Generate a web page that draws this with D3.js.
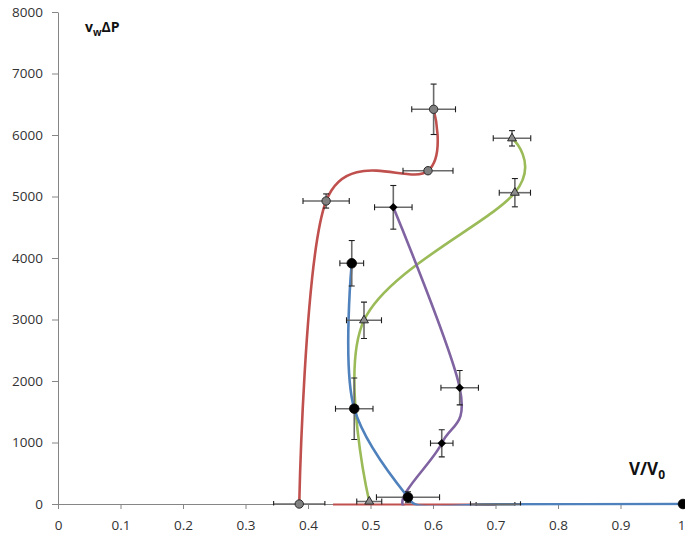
<!DOCTYPE html>
<html>
<head>
<meta charset="utf-8">
<script src="https://cdn.jsdelivr.net/npm/d3@7"></script>
<style>
  body { margin: 0; background: #fff; }
  svg { display: block; }
  text { font-family: "Open Sans", "DejaVu Sans", sans-serif; }
</style>
</head>
<body>
<svg id="chart" width="685" height="537"></svg>
<script>
// Axis ticks
const xTicks = [0, 0.1, 0.2, 0.3, 0.4, 0.5, 0.6, 0.7, 0.8, 0.9, 1];
const xTickLabels = ["0", "0.1", "0.2", "0.3", "0.4", "0.5", "0.6", "0.7", "0.8", "0.9", "1"];
const yTicks = [0, 1000, 2000, 3000, 4000, 5000, 6000, 7000, 8000];

// Series A (red line, grey circles). A null is a blank cell (gap in the line);
// values below 0 lie outside the axis range and get no marker.
const redX    = [0.70, 0.44, null, 0.386, 0.429, 0.592, 0.601];
const redY    = [-15, -15, null, 0, 4927, 5419, 6418];
const redXErr = [0.031, 0, 0, 0.041, 0.037, 0.040, 0.035];
const redYErr = [0, 0, 0, 0, 115, 0, 410];

// Series B (green line, grey triangles)
const greenX    = [0.498, 0.4896, 0.731, 0.7264];
const greenY    = [40, 2987, 5062, 5946];
const greenXErr = [0.020, 0.028, 0.025, 0.030];
const greenYErr = [0, 295, 230, 125];

// Series C (purple line, black diamonds)
const purpleX    = [0.5365, 0.6427, 0.614, 0.553, 0.70];
const purpleY    = [4824, 1891, 987, -40, -15];
const purpleXErr = [0.030, 0.030, 0.018, 0, 0];
const purpleYErr = [355, 280, 220, 0, 0];

// Series D (blue line, black circles)
const blueX    = [0.470, 0.474, 0.560, 0.572, 0.70, 1.0];
const blueY    = [3914, 1550, 110, -6, -6, 0];
const blueXErr = [0.019, 0.030, 0.0505, 0, 0.040, 0];
const blueYErr = [370, 500, 90, 0, 0, 0];

const svg = d3.select("#chart");
const margin = { left: 58, right: 2, top: 12, bottom: 33 };
const W = 685, H = 537;

const x = d3.scaleLinear().domain([0, 1]).range([margin.left, W - margin.right]);
const y = d3.scaleLinear().domain([0, 8000]).range([H - margin.bottom, margin.top]);

const axisColor = "#868686";
const textColor = "#333";

// Plot-area clip: series are cut at the bottom of the value range
svg.append("defs").append("clipPath").attr("id", "plotClip")
  .append("rect")
  .attr("x", x(0)).attr("y", 0)
  .attr("width", x(1) - x(0) + 10)
  .attr("height", y(0) + 1.5);

// Y axis
const yAxis = svg.append("g")
  .attr("transform", `translate(${x(0)},0)`)
  .call(d3.axisLeft(y).tickValues(yTicks).tickSize(6).tickSizeOuter(0).tickPadding(9)
    .tickFormat(d3.format("d")));
yAxis.select(".domain").attr("stroke", axisColor);
yAxis.selectAll(".tick line").attr("stroke", axisColor);
yAxis.selectAll(".tick text").attr("fill", textColor).style("font-size", "13.5px")
  .style("font-family", "'Open Sans', sans-serif");

// X axis
const xAxis = svg.append("g")
  .attr("transform", `translate(0,${y(0)})`)
  .call(d3.axisBottom(x).tickValues(xTicks).tickSize(5).tickSizeOuter(0)
    .tickFormat((d, i) => xTickLabels[i]));
xAxis.select(".domain").attr("stroke", axisColor);
xAxis.selectAll(".tick line").attr("stroke", axisColor);
xAxis.selectAll(".tick text").attr("fill", textColor).style("font-size", "13.5px")
  .style("font-family", "'Open Sans', sans-serif")
  .attr("y", 26).attr("dy", "0")
  .attr("dx", d => (d === 1 ? -2 : 0));

// Axis titles
const yTitle = svg.append("text")
  .attr("x", 85).attr("y", 31.5)
  .attr("fill", "#111")
  .style("font-weight", "bold").style("font-size", "14px");
yTitle.append("tspan").text("v");
yTitle.append("tspan").attr("dy", 4).style("font-size", "10px").text("w");
yTitle.append("tspan").attr("dy", -4).text("ΔP");

const xTitle = svg.append("text")
  .attr("x", 629).attr("y", 475)
  .attr("fill", "#111")
  .style("font-weight", "bold").style("font-size", "17px");
xTitle.append("tspan").text("V/V");
xTitle.append("tspan").attr("dy", 4).style("font-size", "12px").text("0");

const series = [
  { xs: redX, ys: redY, xe: redXErr, ye: redYErr, color: "#C0504D", marker: "circleGrey", alpha: 0 },
  { xs: greenX, ys: greenY, xe: greenXErr, ye: greenYErr, color: "#9BBB59", marker: "triangle", alpha: 0 },
  { xs: purpleX, ys: purpleY, xe: purpleXErr, ye: purpleYErr, color: "#8064A2", marker: "diamond", alpha: 0 },
  { xs: blueX, ys: blueY, xe: blueXErr, ye: blueYErr, color: "#4F81BD", marker: "circleBlack", alpha: 0.5 }
];

const plot = svg.append("g").attr("clip-path", "url(#plotClip)");

// Smoothed lines
series.forEach(s => {
  const pts = s.xs.map((v, i) => (v == null ? null : [x(v), y(s.ys[i])]));
  const lineGen = d3.line()
    .defined(p => p != null)
    .curve(d3.curveCatmullRom.alpha(s.alpha));
  plot.append("path")
    .attr("d", lineGen(pts))
    .attr("fill", "none")
    .attr("stroke", s.color)
    .attr("stroke-width", 2.6)
    .attr("stroke-linejoin", "round");
});

// Error bars
const barColor = "#6a6a6a", capColor = "#1e1e1e", cap = 3;
series.forEach(s => {
  s.xs.forEach((v, i) => {
    if (v == null) return;
    const cx = x(v), cy = y(s.ys[i]);
    const g = plot.append("g");
    if (s.xe[i] > 0) {
      const x0 = x(v - s.xe[i]), x1 = x(v + s.xe[i]);
      g.append("line").attr("x1", x0).attr("x2", x1).attr("y1", cy).attr("y2", cy)
        .attr("stroke", barColor).attr("stroke-width", 1.6);
      [x0, x1].forEach(xx => g.append("line").attr("x1", xx).attr("x2", xx)
        .attr("y1", cy - cap).attr("y2", cy + cap).attr("stroke", capColor).attr("stroke-width", 1.1));
    }
    if (s.ye[i] > 0) {
      const y0 = y(s.ys[i] - s.ye[i]), y1 = y(s.ys[i] + s.ye[i]);
      g.append("line").attr("x1", cx).attr("x2", cx).attr("y1", y0).attr("y2", y1)
        .attr("stroke", barColor).attr("stroke-width", 1.6);
      [y0, y1].forEach(yy => g.append("line").attr("y1", yy).attr("y2", yy)
        .attr("x1", cx - cap).attr("x2", cx + cap).attr("stroke", capColor).attr("stroke-width", 1.1));
    }
  });
});

// Markers (only for points inside the value range)
series.forEach(s => {
  s.xs.forEach((v, i) => {
    const yv = s.ys[i];
    if (v == null || yv < 0) return;
    const cx = x(v), cy = y(yv);
    if (s.marker === "circleGrey") {
      svg.append("circle").attr("cx", cx).attr("cy", cy).attr("r", 4.2)
        .attr("fill", "#808080").attr("stroke", "#2b2b2b").attr("stroke-width", 1);
    } else if (s.marker === "circleBlack") {
      svg.append("circle").attr("cx", cx).attr("cy", cy).attr("r", 4.8)
        .attr("fill", "#000").attr("stroke", "#000").attr("stroke-width", 0.8);
    } else if (s.marker === "diamond") {
      svg.append("path").attr("d", d3.symbol(d3.symbolDiamond2, 46)())
        .attr("transform", `translate(${cx},${cy})`)
        .attr("fill", "#000");
    } else if (s.marker === "triangle") {
      svg.append("path").attr("d", d3.symbol(d3.symbolTriangle, 34)())
        .attr("transform", `translate(${cx},${cy})`)
        .attr("fill", "#8c8c8c").attr("stroke", "#2b2b2b").attr("stroke-width", 1);
    }
  });
});
</script>
</body>
</html>
